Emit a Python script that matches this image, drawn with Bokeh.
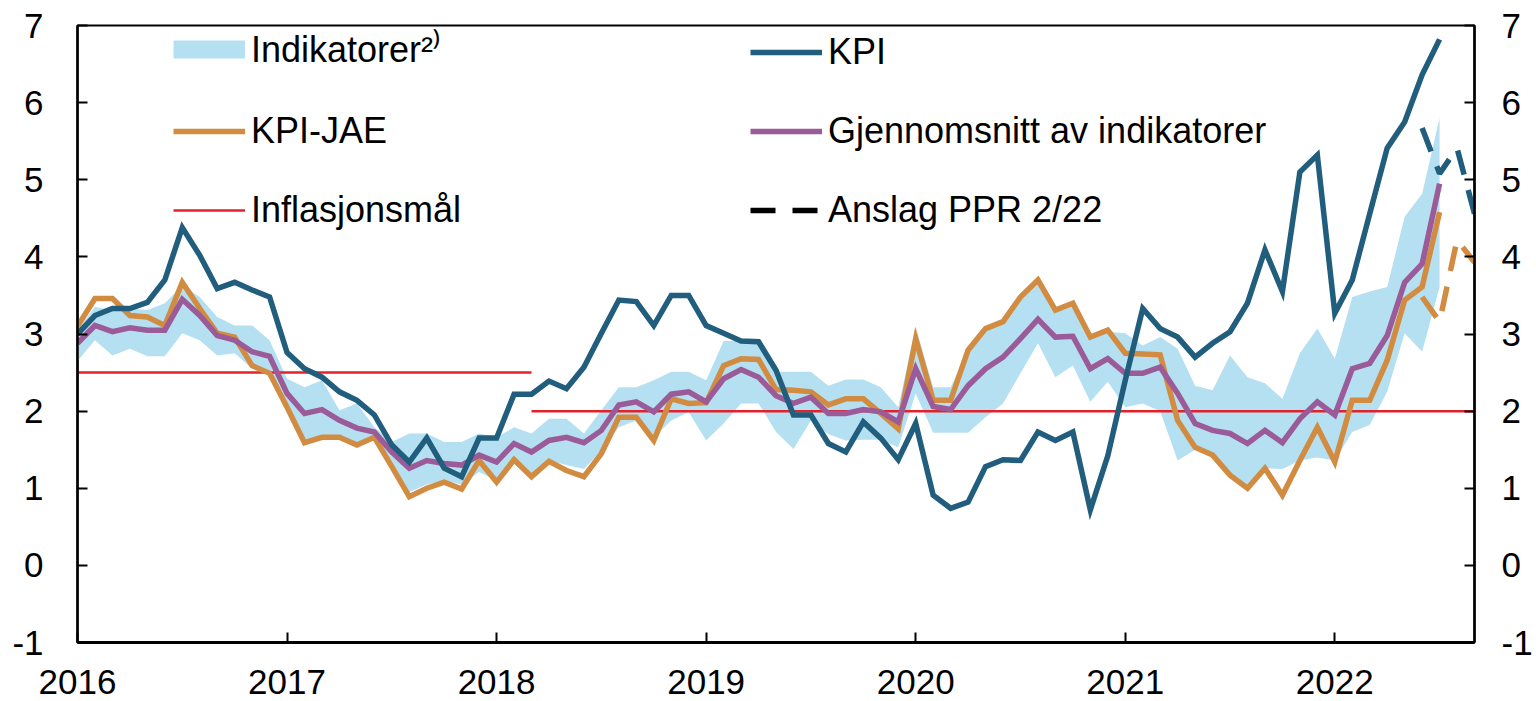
from bokeh.plotting import figure
from bokeh.models import Range1d, LinearAxis, FixedTicker, Legend, LegendItem, BasicTickFormatter
from bokeh.embed import file_html
from bokeh.resources import INLINE

# ---------------- data (12-month growth, percent) ----------------
start_year = 2016
kpi = [3.00, 3.24, 3.33, 3.33, 3.41, 3.70, 4.38, 4.02, 3.59, 3.67, 3.57, 3.48,
       2.76, 2.55, 2.44, 2.25, 2.14, 1.95, 1.56, 1.34, 1.65, 1.26, 1.15, 1.65,
       1.65, 2.22, 2.22, 2.39, 2.29, 2.57, 3.01, 3.44, 3.42, 3.11, 3.50, 3.50,
       3.11, 3.01, 2.91, 2.90, 2.53, 1.95, 1.95, 1.58, 1.47, 1.86, 1.65, 1.37,
       1.84, 0.91, 0.74, 0.82, 1.28, 1.37, 1.36, 1.73, 1.62, 1.73, 0.72, 1.42,
       2.40, 3.33, 3.07, 2.96, 2.70, 2.88, 3.03, 3.40, 4.09, 3.55, 5.10, 5.32,
       3.27, 3.70, 4.56, 5.41, 5.75, 6.36, 6.82]
kpi_jae = [3.10, 3.46, 3.46, 3.24, 3.22, 3.11, 3.67, 3.33, 3.01, 2.96, 2.59, 2.49,
           2.05, 1.59, 1.66, 1.66, 1.56, 1.66, 1.28, 0.89, 1.00, 1.08, 0.99, 1.36,
           1.08, 1.37, 1.15, 1.35, 1.23, 1.15, 1.45, 1.92, 1.92, 1.62, 2.16, 2.10,
           2.11, 2.59, 2.68, 2.67, 2.28, 2.27, 2.25, 2.08, 2.16, 2.16, 1.97, 1.77,
           2.94, 2.14, 2.14, 2.79, 3.07, 3.16, 3.48, 3.70, 3.31, 3.40, 2.96, 3.05,
           2.75, 2.74, 2.73, 1.88, 1.53, 1.43, 1.17, 1.00, 1.26, 0.91, 1.36, 1.79,
           1.34, 2.14, 2.14, 2.66, 3.44, 3.61, 4.58]
gjennomsnitt = [2.88, 3.11, 3.03, 3.08, 3.05, 3.05, 3.45, 3.24, 2.98, 2.92, 2.77, 2.71,
                2.23, 1.97, 2.02, 1.88, 1.78, 1.73, 1.47, 1.26, 1.36, 1.32, 1.30, 1.43,
                1.34, 1.58, 1.47, 1.62, 1.66, 1.59, 1.75, 2.08, 2.12, 1.99, 2.22, 2.25,
                2.12, 2.42, 2.54, 2.44, 2.20, 2.10, 2.18, 1.97, 1.97, 2.02, 1.99, 1.86,
                2.55, 2.06, 2.02, 2.33, 2.55, 2.70, 2.94, 3.19, 2.96, 2.97, 2.55, 2.68,
                2.49, 2.49, 2.57, 2.23, 1.84, 1.75, 1.71, 1.58, 1.75, 1.59, 1.90, 2.12,
                1.95, 2.55, 2.62, 2.98, 3.67, 3.91, 4.95]
indikatorer_lav = [2.65, 2.92, 2.72, 2.81, 2.71, 2.71, 3.01, 2.92, 2.72, 2.75, 2.55, 2.53,
                   2.05, 1.60, 1.65, 1.65, 1.55, 1.65, 1.35, 0.95, 1.05, 1.10, 1.05, 1.21,
                   1.10, 1.32, 1.19, 1.36, 1.30, 1.25, 1.49, 1.79, 1.88, 1.66, 1.88, 1.99,
                   1.62, 1.84, 2.10, 2.10, 1.73, 1.51, 1.88, 1.70, 1.62, 1.63, 1.63, 1.53,
                   2.23, 1.72, 1.72, 1.72, 1.92, 2.10, 2.49, 2.88, 2.44, 2.59, 2.12, 2.38,
                   2.05, 2.10, 2.00, 1.36, 1.50, 1.43, 1.17, 1.00, 1.26, 1.25, 1.36, 1.40,
                   1.36, 1.73, 1.82, 2.25, 3.01, 2.77, 3.61]
indikatorer_hoy = [3.05, 3.35, 3.31, 3.33, 3.31, 3.40, 3.63, 3.48, 3.22, 3.11, 3.11, 2.92,
                   2.42, 2.31, 2.40, 2.01, 2.10, 1.79, 1.60, 1.71, 1.71, 1.60, 1.60, 1.71,
                   1.66, 1.79, 1.71, 1.90, 1.90, 1.71, 2.01, 2.31, 2.31, 2.40, 2.51, 2.51,
                   2.40, 2.91, 2.91, 2.90, 2.51, 2.51, 2.51, 2.33, 2.41, 2.41, 2.31, 2.05,
                   3.09, 2.31, 2.31, 2.79, 3.05, 3.15, 3.45, 3.68, 3.30, 3.38, 2.95, 3.03,
                   3.01, 2.85, 2.96, 2.81, 2.33, 2.27, 2.72, 2.44, 2.36, 2.16, 2.75, 3.07,
                   2.68, 3.48, 3.55, 3.61, 4.52, 4.82, 5.80]
anslag_months = ["2022-06", "2022-07", "2022-08", "2022-09"]
kpi_anslag = [5.67, 5.08, 5.41, 4.56]
kpi_jae_anslag = [3.48, 3.16, 4.22, 3.93]
inflasjonsmal = [("2016-01", "2018-03", 2.5), ("2018-03", "2022-09", 2.0)]
year_ticks = [2016, 2017, 2018, 2019, 2020, 2021, 2022]
y_ticks = [-1, 0, 1, 2, 3, 4, 5, 6, 7]

# ---------------- styles ----------------
C_KPI = "#215d7c"
C_JAE = "#d18c41"
C_AVG = "#9b5b98"
C_BAND = "#b5e0f2"
C_RED = "#e4202a"
FONT = "Liberation Sans"
LW = 5.5
NAN = float("nan")


def to_x(ym):
    y, m = ym.split("-")
    return int(y) + (int(m) - 1) / 12.0


x = [start_year + i / 12.0 for i in range(len(kpi))]
xa = [to_x(m) for m in anslag_months]

p = figure(width=1536, height=701,
           x_range=Range1d(start_year, to_x(anslag_months[-1])),
           y_range=Range1d(y_ticks[0], y_ticks[-1]),
           output_backend="svg", toolbar_location=None,
           min_border_left=77, min_border_right=62,
           min_border_top=25, min_border_bottom=59)
p.xgrid.visible = False
p.ygrid.visible = False
p.outline_line_color = "black"
p.outline_line_width = 2
p.outline_line_alpha = 1
p.background_fill_color = "white"
p.border_fill_color = "white"

# band
p.varea(x=x, y1=indikatorer_lav, y2=indikatorer_hoy, fill_color=C_BAND, fill_alpha=1)
# target
mal_renderers = []
for a, b, v in inflasjonsmal:
    r = p.line(x=[to_x(a), to_x(b)], y=[v, v], line_color=C_RED, line_width=2.5)
    mal_renderers.append(r)
# lines
r_jae = p.line(x=x, y=kpi_jae, line_color=C_JAE, line_width=LW, line_join="miter")
r_avg = p.line(x=x, y=gjennomsnitt, line_color=C_AVG, line_width=LW, line_join="miter")
r_kpi = p.line(x=x, y=kpi, line_color=C_KPI, line_width=LW, line_join="miter")
p.line(x=xa, y=kpi_jae_anslag, line_color=C_JAE, line_width=LW, line_dash="25 16")
p.line(x=xa, y=kpi_anslag, line_color=C_KPI, line_width=LW, line_dash="25 16")

# legend proxy renderers (a single NaN point: nothing drawn in the plot)
r_band_leg = p.line(x=[NAN], y=[NAN], line_color=C_BAND, line_width=18)
r_dash_leg = p.line(x=[NAN], y=[NAN], line_color="black", line_width=LW, line_dash="25 17")

# axes
def style_axis(ax, standoff):
    ax.axis_line_color = "black"
    ax.axis_line_width = 2.5
    ax.major_tick_in = 10
    ax.major_tick_out = 0
    ax.minor_tick_in = 0
    ax.minor_tick_out = 0
    ax.major_tick_line_color = "black"
    ax.major_tick_line_width = 2
    ax.major_label_text_font = FONT
    ax.major_label_text_font_size = "35px"
    ax.major_label_text_color = "black"
    ax.major_label_standoff = standoff

xaxis = p.xaxis[0]
xaxis.ticker = FixedTicker(ticks=year_ticks)
xaxis.formatter = BasicTickFormatter(use_scientific=False)
style_axis(xaxis, 27)
xaxis.axis_line_width = 3

ylab = {t: str(t) for t in y_ticks}
yaxis = p.yaxis[0]
yaxis.ticker = FixedTicker(ticks=y_ticks)
yaxis.major_label_overrides = ylab
style_axis(yaxis, 34)

raxis = LinearAxis(ticker=FixedTicker(ticks=y_ticks), major_label_overrides=ylab)
style_axis(raxis, 27)
p.add_layout(raxis, "right")

def make_legend(items, loc):
    lg = Legend(items=items, location=loc, orientation="vertical",
                glyph_width=72, glyph_height=40, label_height=40,
                label_standoff=6, spacing=37, padding=0, margin=0,
                border_line_alpha=0, background_fill_alpha=0,
                label_text_font=FONT, label_text_font_size="36px",
                label_text_color="black")
    return lg

leg1 = make_legend([LegendItem(label="Indikatorer²⁾", renderers=[r_band_leg]),
                    LegendItem(label="KPI-JAE", renderers=[r_jae]),
                    LegendItem(label="Inflasjonsmål", renderers=[mal_renderers[0]])],
                   (96, 411))
leg2 = make_legend([LegendItem(label="KPI", renderers=[r_kpi]),
                    LegendItem(label="Gjennomsnitt av indikatorer", renderers=[r_avg]),
                    LegendItem(label="Anslag PPR 2/22", renderers=[r_dash_leg])],
                   (673, 411))
p.add_layout(leg1)
p.add_layout(leg2)

open("out.html", "w").write(file_html(p, INLINE, title="KPI"))
